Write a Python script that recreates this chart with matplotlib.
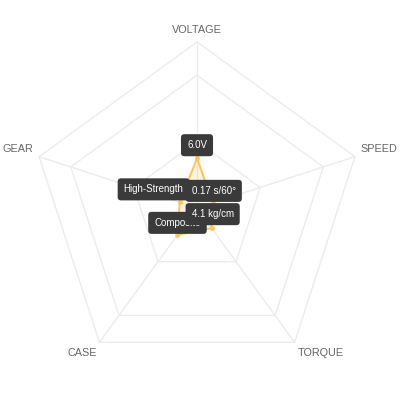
import numpy as np
import matplotlib
matplotlib.use("Agg")
import matplotlib.pyplot as plt

plt.rcParams['font.family'] = ['Liberation Sans', 'DejaVu Sans']

# chart data
axes_labels = ["VOLTAGE", "SPEED", "TORQUE", "CASE", "GEAR"]
values = [1.5, 0.5, 0.75, 1.0, 0.55]
value_labels = ["6.0V", "0.17 s/60°", "4.1 kg/cm", "Composite", "High-Strength"]
grid_levels = [2, 4, 5]
scale_max = 5

# layout (pixels)
W = 401
cx, cy = 197, 208
R_px = 166
k = R_px / scale_max  # px per unit

fig = plt.figure(figsize=(W / 100, W / 100), dpi=100)
ax = fig.add_axes([0, 0, 1, 1])
ax.set_xlim(-cx / k, (W - cx) / k)
ax.set_ylim(-(W - cy) / k, cy / k)
ax.set_aspect('equal')
ax.axis('off')

n = len(axes_labels)
ang = np.pi / 2 - np.arange(n) * 2 * np.pi / n
ux, uy = np.cos(ang), np.sin(ang)

grid_col = '#ececec'
for lv in grid_levels:
    ax.plot(np.append(ux, ux[0]) * lv, np.append(uy, uy[0]) * lv,
            color=grid_col, lw=1, zorder=1)
for i in range(n):
    ax.plot([0, ux[i] * scale_max], [0, uy[i] * scale_max], color=grid_col, lw=1, zorder=1)

# data polygon
v = np.array(values)
px, py = ux * v, uy * v
ax.fill(px, py, color='#ffc459', alpha=0.18, lw=0, zorder=2)
ax.plot(np.append(px, px[0]), np.append(py, py[0]), color='#ffc459', lw=1.4, zorder=3)
ax.scatter(px, py, s=6, color='#ffc459', zorder=4)

# axis labels
lab_off = [(0, 12), (6, 8), (3, -11), (-2, -11), (-6, 8)]
lab_ha = ['center', 'left', 'left', 'right', 'right']
for i in range(n):
    ax.annotate(axes_labels[i], (ux[i] * scale_max, uy[i] * scale_max),
                xytext=lab_off[i], textcoords='offset pixels',
                ha=lab_ha[i], va='center', fontsize=7.8, color='#666666')

# value boxes
box_off = [(0, 13), (1, 12), (1, 14), (0, 12), (-26, 13)]
box_z = [6, 6, 6, 5, 5]
for i in range(n):
    ax.annotate(value_labels[i], (px[i], py[i]), xytext=box_off[i],
                textcoords='offset pixels', ha='center', va='center',
                fontsize=7.0, color='white', zorder=box_z[i],
                bbox=dict(boxstyle='round,pad=0.62,rounding_size=0.35',
                          fc='#3a3a3a', ec='none'))

plt.savefig('out.png', dpi=100)
